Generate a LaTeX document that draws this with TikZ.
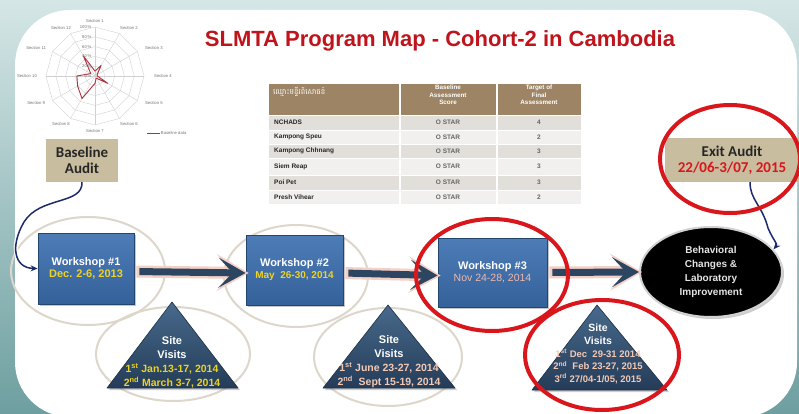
\documentclass[tikz,border=0pt]{standalone}
\usepackage{fontspec}
\setmainfont{Liberation Sans}
\newfontfamily\calib{Carlito}
\newfontfamily\khmerfont[Script=Khmer]{Battambang}
\usetikzlibrary{shapes.geometric,arrows.meta,shadows,calc}
\definecolor{ttlred}{HTML}{C0141C}
\definecolor{khaki}{HTML}{C8BD9E}
\definecolor{wsblueT}{HTML}{4E7CB6}
\definecolor{wsblueB}{HTML}{34619A}
\definecolor{wsedge}{HTML}{22466E}
\definecolor{arrdark}{HTML}{2C4661}
\definecolor{glowpink}{HTML}{F4CFC6}
\definecolor{beige}{HTML}{DDD7CB}
\definecolor{circred}{HTML}{D8161B}
\definecolor{triT}{HTML}{486A8C}
\definecolor{triB}{HTML}{243C58}
\definecolor{datey}{HTML}{EED321}
\definecolor{datep}{HTML}{F4C9B4}
\definecolor{hdrbrown}{HTML}{9C8465}
\definecolor{rowA}{HTML}{E2DFDB}
\definecolor{rowB}{HTML}{F2F0EE}
\definecolor{navy}{HTML}{1C2B6B}
\definecolor{bgtop}{HTML}{D5E6E6}
\definecolor{bgbot}{HTML}{6E9FA0}
\definecolor{gridc}{HTML}{D0D0D0}
\definecolor{datared}{HTML}{B0303E}
\definecolor{ws3date}{HTML}{F2B8A8}
\begin{document}
\begin{tikzpicture}[x=1pt,y=-1pt,
  wsbox/.style={draw=wsedge, line width=0.8pt, top color=wsblueT, bottom color=wsblueB,
    drop shadow={opacity=0.45, shadow xshift=2pt, shadow yshift=-2pt},
    align=center, text=white, inner sep=0pt},
  audit/.style={fill=khaki, align=center, text=black!85, inner sep=0pt,
    font=\calib\bfseries\fontsize{15}{16}\selectfont},
  tri/.style={draw=triB!80!black, line width=0.6pt, top color=triT, bottom color=triB,
    line join=round, drop shadow={opacity=0.4, shadow xshift=2pt, shadow yshift=-2pt}},
  svtext/.style={align=center, text=white, inner sep=0pt, font=\bfseries\fontsize{11}{14}\selectfont},
  arr/.style={draw=arrdark, line width=7pt, -{Stealth[length=27pt,width=30pt,inset=14pt]}, shorten <=5pt},
  glow/.style={draw=glowpink, line width=12pt, -{Stealth[length=32pt,width=37pt,inset=16pt]}, shorten <=2pt, shorten >=-3pt},
  beigeell/.style={draw=beige, line width=2pt},
  redell/.style={draw=circred, line width=4pt},
  chartlbl/.style={font=\fontsize{4.2}{5}\selectfont, text=black!55, inner sep=0.5pt},
  tcell/.style={font=\bfseries\fontsize{6.5}{7.5}\selectfont, text=black!85, inner sep=0pt},
  thead/.style={font=\bfseries\fontsize{6.3}{7.4}\selectfont, text=white, align=center, inner sep=0pt},
  curvearr/.style={draw=navy, line width=1.5pt, -{Stealth[length=7pt,width=6pt]}},
  curveglow/.style={draw=white, line width=4.5pt, opacity=0.8}
]
\useasboundingbox (0,0) rectangle (799,414);
% background and panel
\shade[top color=bgtop, bottom color=bgbot] (0,0) rectangle (799,414);
\fill[white, rounded corners=55pt] (15,10) rectangle (797,417);

% radar chart
\coordinate (radc) at (95,76);
\foreach \r in {0.2,0.4,0.6,0.8,1.0}
  \draw[gridc, line width=0.4pt] ($(radc)+(-90:{\r*49})$)
    \foreach \k in {2,...,12}{ -- ($(radc)+({30*(\k-1)-90}:{\r*49})$)} -- cycle;
\foreach \k in {1,...,12}
  \draw[gridc, line width=0.4pt] (radc) -- ($(radc)+({30*(\k-1)-90}:49)$);
\draw[datared, line width=0.9pt, line join=round] ($(radc)+(-90:{0.1*49})$)
  \foreach \v [count=\k from 2] in {0.25,0.05,0.05,0.3,0.05,0.15,0.53,0.41,0.37,0.1,0.47}
  { -- ($(radc)+({30*(\k-1)-90}:{\v*49})$)} -- cycle;
\foreach \p in {0,20,40,60,80,100}
  \node[chartlbl, anchor=east] (rl\p) at (92,{76-0.49*\p}) {\p\,\%};
\foreach \k in {1,...,12}
  \node[chartlbl] (sec\k) at ($(radc)+({68*cos(30*(\k-1)-90)},{55*sin(30*(\k-1)-90)})$) {Section \k};
\coordinate (legA) at (147,133);
\draw[datared, line width=0.9pt] (legA) -- ++(13,0) node[chartlbl, anchor=west] (leg) {Baseline data};

% title
\node[font=\bfseries\fontsize{22}{24}\selectfont, text=ttlred, anchor=base, inner sep=0pt] (title) at (440,47)
  {SLMTA Program Map - Cohort-2 in Cambodia};

% table
\fill[hdrbrown] (269,84) rectangle (581,115);
\foreach \ya/\yb/\c in {115/130/rowA,130/144/rowB,144/158/rowA,158/175/rowB,175/190/rowA,190/204/rowB}
  \fill[\c] (269,\ya) rectangle (581,\yb);
\draw[white, line width=1.5pt] (400,84) -- (400,204) (497,84) -- (497,204);
\foreach \yy in {115,130,144,158,175,190}
  \draw[white, line width=0.7pt] (269,\yy) -- (581,\yy);
\node[anchor=west, text=white, inner sep=0pt] (hd1) at (273,92)
  {\khmerfont\fontsize{7.5}{8}\selectfont ឈ្មោះមន្ទីរពិសោធន៍};
\node[thead] (hd2) at (448,95) {Baseline\\Assessment\\Score};
\node[thead] (hd3) at (539,95) {Target of\\Final\\Assessment};
\foreach \nm/\tg/\yy [count=\i] in {NCHADS/4/122.5, Kampong Speu/2/137, Kampong Chhnang/3/151,
    Siem Reap/3/166.5, Poi Pet/3/182.5, Presh Vihear/2/197}{
  \node[tcell, anchor=west] (ra\i) at (274,\yy) {\nm};
  \node[tcell, text=black!60] (rb\i) at (448,\yy) {O STAR};
  \node[tcell, text=black!60] (rcell\i) at (539,\yy) {\tg};
}

% beige ellipses
\draw[beigeell] (88,271) ellipse [x radius=77, y radius=54];
\draw[beigeell] (173,354) ellipse [x radius=77, y radius=47];
\draw[beigeell] (296,276) ellipse [x radius=72, y radius=51];
\draw[beigeell] (388,357) ellipse [x radius=74, y radius=49];

% workshop boxes
\node[wsbox, minimum width=96pt, minimum height=71pt] (ws1) at (86,268.5)
  {{\bfseries\fontsize{11}{14}\selectfont Workshop \#1}\\
   {\bfseries\fontsize{11}{14}\selectfont\color{datey}Dec. 2-6, 2013}};
\node[wsbox, minimum width=97pt, minimum height=70pt] (ws2) at (294.5,270)
  {{\bfseries\fontsize{11}{14}\selectfont Workshop \#2}\\
   {\bfseries\fontsize{10}{14}\selectfont\color{datey}May~~26-30, 2014}};
\node[wsbox, minimum width=109pt, minimum height=69pt] (ws3) at (492.5,272.5)
  {{\bfseries\fontsize{11}{14}\selectfont Workshop \#3}\\
   {\fontsize{10.5}{14}\selectfont\color{ws3date}Nov 24-28, 2014}};

% final outcome
\node[ellipse, fill=black, draw=gray!35, line width=2pt, minimum width=142pt, minimum height=90pt,
  drop shadow={opacity=0.4, shadow xshift=2pt, shadow yshift=-2pt},
  text=white!90!black, align=center, inner sep=0pt, font=\bfseries\fontsize{10}{14}\selectfont]
  (behav) at (711,272) {Behavioral\\Changes \&\\Laboratory\\Improvement};

% arrows
\draw[glow] ([yshift=-3pt]ws1.east) -- ([yshift=-3pt]ws2.west);
\draw[glow] ([yshift=-3pt]ws2.east) -- ([yshift=-3pt]ws3.west);
\draw[glow] (ws3.east) -- (behav.west);
\draw[arr] ([yshift=-3pt]ws1.east) -- ([yshift=-3pt]ws2.west);
\draw[arr] ([yshift=-3pt]ws2.east) -- ([yshift=-3pt]ws3.west);
\draw[arr] (ws3.east) -- (behav.west);

% site visit triangles
\path[tri] (172,302) -- (238,388) -- (107,388) -- cycle;
\path[tri] (388,305) -- (455,388) -- (323,388) -- cycle;
\path[tri] (597,305) -- (667,390) -- (532,390) -- cycle;
\node[svtext] (sv1) at (172,362)
  {Site\\Visits\\
   {\fontsize{10.5}{14}\selectfont\color{datey}1\textsuperscript{st} Jan.13-17, 2014}\\
   {\fontsize{10.5}{14}\selectfont\color{datey}2\textsuperscript{nd} March 3-7, 2014}};
\node[svtext] (sv2) at (389,362)
  {Site\\Visits\\
   {\fontsize{10.5}{14}\selectfont\color{datep}1\textsuperscript{st} June 23-27, 2014}\\
   {\fontsize{10.5}{14}\selectfont\color{datep}2\textsuperscript{nd}~~Sept 15-19, 2014}};
\node[svtext, font=\bfseries\fontsize{10.5}{12.8}\selectfont] (sv3) at (598,354)
  {Site\\Visits\\
   {\fontsize{9.5}{12.8}\selectfont\color{datep}1\textsuperscript{st} Dec~~29-31 2014}\\
   {\fontsize{9.5}{12.8}\selectfont\color{datep}2\textsuperscript{nd}~~Feb 23-27, 2015}\\
   {\fontsize{9.5}{12.8}\selectfont\color{datep}3\textsuperscript{rd} 27/04-1/05, 2015}};

% audits
\node[audit, minimum width=72pt, minimum height=43pt] (bl) at (82,160.5) {Baseline\\Audit};
\node[audit, minimum width=134pt, minimum height=44pt] (ex) at (732,160)
  {Exit Audit\\\textcolor{circred}{22/06-3/07, 2015}};

% curved connectors
\draw[curveglow] (bl.south) .. controls (83,205) and (40,196) .. (24,222)
  .. controls (10,246) and (14,268) .. (ws1.west);
\draw[curvearr] (bl.south) .. controls (83,205) and (40,196) .. (24,222)
  .. controls (10,246) and (14,268) .. (ws1.west);
\draw[curveglow] ([xshift=18pt]ex.south) .. controls (750,200) and (762,205) .. (768,228)
  .. controls (773,240) and (778,244) .. (behav.20);
\draw[curvearr] ([xshift=18pt]ex.south) .. controls (750,200) and (762,205) .. (768,228)
  .. controls (773,240) and (778,244) .. (behav.20);

% red highlight ellipses
\draw[redell] (492,275) ellipse [x radius=76, y radius=56];
\draw[redell] (602,355) ellipse [x radius=77, y radius=55];
\draw[redell] (730,159) ellipse [x radius=70, y radius=54];
\end{tikzpicture}
\end{document}
